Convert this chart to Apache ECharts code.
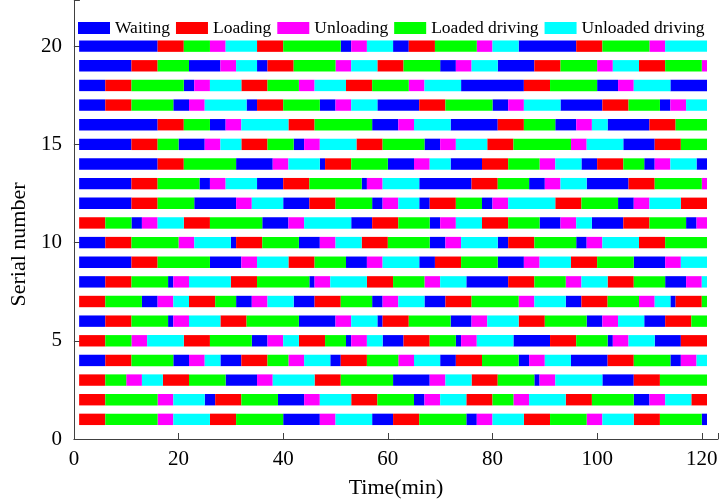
<!DOCTYPE html>
<html>
<head>
<meta charset="utf-8">
<script src="https://cdn.jsdelivr.net/npm/echarts@6/dist/echarts.min.js"></script>
<style>
  html, body { margin: 0; padding: 0; background: #fff; }
  #chart { width: 721px; height: 504px; }
</style>
</head>
<body>
<div id="chart"></div>
<script>
// state codes: W waiting, L loading, U unloading, D loaded driving, E unloaded driving
const stateNames = ["Waiting", "Loading", "Unloading", "Loaded driving", "Unloaded driving"];
const stateCodes = ["W", "L", "U", "D", "E"];
const stateColors = ["#0000ff", "#ff0000", "#ff00ff", "#00ff00", "#00ffff"];

// each row: boundary times (min) and the state of each interval between them
const times1 = [1, 6, 16, 19, 26, 31, 40, 47, 50, 57, 61, 66, 75, 77, 80, 86, 91, 98, 101, 107, 112, 120, 121];
const states1 = "LDUELDWUEWLDWUELDUELDW";
const times2 = [1, 6, 16, 19, 25, 27, 32, 39, 44, 47, 53, 58, 65, 67, 70, 75, 80, 84, 87, 94, 99, 107, 110, 113, 118, 121];
const states2 = "LDUEWLDWUELDWUELDUELDWUEL";
const times3 = [1, 6, 10, 13, 17, 22, 29, 35, 38, 46, 51, 61, 68, 71, 76, 81, 88, 89, 92, 101, 107, 112, 121];
const states3 = "LDUELDWUELDWUELDWUEWLD";
const times4 = [1, 6, 11, 19, 22, 25, 28, 32, 37, 41, 44, 49, 51, 56, 62, 65, 70, 73, 78, 85, 87, 90, 95, 102, 107, 114, 116, 119, 121];
const states4 = "WLDWUEWLDUEWLDUEWLDWUEWLDWUE";
const times5 = [1, 6, 11, 14, 21, 26, 34, 37, 40, 43, 48, 52, 53, 56, 59, 63, 68, 73, 74, 77, 84, 91, 96, 102, 103, 106, 111, 116, 121];
const states5 = "LDUELDWUELDWUEWLDWUEWLDWUEWL";
const times6 = [1, 6, 11, 18, 19, 22, 28, 33, 43, 50, 53, 58, 59, 64, 72, 76, 79, 85, 90, 98, 101, 104, 109, 113, 118, 121];
const states6 = "WLDWUELDWUEWLDWUELDWUEWLD";
const times7 = [1, 6, 13, 16, 19, 22, 27, 31, 34, 37, 42, 46, 51, 57, 59, 62, 67, 71, 76, 85, 88, 94, 97, 102, 108, 111, 114, 115, 120, 121];
const states7 = "LDWUELDWUEWLDWUEWLDUEWLDUEWLD";
const times8 = [1, 6, 11, 18, 19, 22, 30, 35, 45, 46, 49, 56, 61, 67, 70, 75, 83, 88, 94, 97, 102, 107, 113, 117, 120, 121];
const states8 = "WLDWUELDWUELDUEWLDUELDWUE";
const times9 = [1, 11, 16, 26, 32, 35, 41, 46, 52, 56, 59, 66, 69, 74, 81, 86, 89, 95, 100, 107, 113, 116, 121];
const states9 = "WLDWUELDWUEWLDWUELDWUE";
const times10 = [1, 6, 11, 20, 23, 30, 31, 36, 43, 47, 50, 55, 60, 68, 71, 74, 81, 83, 88, 96, 98, 101, 108, 113, 121];
const states10 = "WLDUEWLDWUELDWUEWLDWUELD";
const times11 = [1, 6, 11, 13, 16, 21, 26, 36, 41, 44, 53, 57, 62, 68, 70, 73, 78, 83, 89, 93, 96, 99, 105, 110, 117, 119, 121];
const states11 = "LDWUELDWUEWLDWUELDWUEWLDWU";
const times12 = [1, 11, 16, 23, 31, 34, 40, 45, 50, 57, 59, 62, 66, 68, 73, 78, 80, 83, 92, 97, 104, 107, 110, 116, 121];
const states12 = "WLDWUEWLDWUEWLDWUELDWUEL";
const times13 = [1, 11, 16, 24, 26, 29, 35, 40, 45, 55, 56, 59, 66, 76, 81, 87, 90, 93, 98, 106, 111, 120, 121];
const states13 = "WLDWUEWLDWUEWLDWUEWLDU";
const times14 = [1, 16, 21, 31, 38, 41, 47, 48, 53, 60, 65, 68, 72, 78, 83, 89, 92, 97, 100, 105, 109, 111, 114, 119, 121];
const states14 = "WLDWUEWLDWUEWLDUEWLDWUEW";
const times15 = [1, 11, 16, 20, 25, 28, 32, 37, 42, 44, 47, 54, 59, 67, 70, 73, 79, 84, 95, 98, 105, 111, 116, 121];
const states15 = "WLDWUELDWUELDWUELDUEWLD";
const times16 = [1, 16, 21, 26, 29, 32, 41, 46, 57, 62, 65, 72, 81, 86, 92, 96, 99, 102, 110, 115, 121];
const states16 = "WLDWUELDWUEWLDWUEWLD";
const times17 = [1, 6, 11, 19, 22, 25, 33, 35, 40, 47, 50, 53, 58, 66, 71, 80, 83, 86, 93, 101, 106, 112, 114, 117, 121];
const states17 = "WLDWUEWLDWUEWLDWUEWLDWUE";
const times18 = [1, 6, 11, 21, 23, 26, 32, 37, 43, 46, 52, 57, 64, 67, 74, 86, 91, 100, 104, 107, 114, 121];
const states18 = "WLDWUELDUELDUEWLDWUEW";
const times19 = [1, 11, 16, 22, 28, 31, 35, 37, 42, 50, 53, 58, 63, 70, 73, 76, 81, 88, 93, 100, 103, 108, 113, 120, 121];
const states19 = "WLDWUEWLDUELDWUEWLDUELDU";
const times20 = [1, 16, 21, 26, 29, 35, 40, 51, 53, 56, 61, 64, 69, 77, 80, 85, 96, 101, 110, 113, 121];
const states20 = "WLDUELDWUEWLDUEWLDUE";

const rowTimes = [times1, times2, times3, times4, times5, times6, times7, times8, times9, times10,
  times11, times12, times13, times14, times15, times16, times17, times18, times19, times20];
const rowStates = [states1, states2, states3, states4, states5, states6, states7, states8, states9, states10,
  states11, states12, states13, states14, states15, states16, states17, states18, states19, states20];

const xTicks = [0, 20, 40, 60, 80, 100, 120];
const yTicks = [0, 5, 10, 15, 20];

// split segments by state: [start, end, serial]
const segs = stateCodes.map(() => []);
rowTimes.forEach((t, r) => {
  const s = rowStates[r];
  for (let i = 0; i < s.length; i++) {
    segs[stateCodes.indexOf(s[i])].push([t[i], t[i + 1], r + 1]);
  }
});

const barHeight = 0.58;
function renderItem(params, api) {
  const row = api.value(2);
  const p0 = api.coord([api.value(0), row]);
  const p1 = api.coord([api.value(1), row]);
  const h = api.size([0, barHeight])[1];
  return {
    type: "rect",
    shape: { x: p0[0], y: p0[1] - h / 2, width: p1[0] - p0[0], height: h },
    style: api.style()
  };
}

const font = "Liberation Serif";
const mc = echarts.init(document.getElementById("chart"));
const option = {
  animation: false,
  backgroundColor: "#fff",
  legend: {
    left: 73,
    top: 14,
    width: 648,
    icon: "rect",
    itemWidth: 32,
    itemHeight: 12,
    itemGap: 6,
    textStyle: { fontFamily: font, fontSize: 17.5, color: "#000" },
    data: stateNames
  },
  grid: { left: 68, right: 0, top: 0, bottom: 62.5 },
  xAxis: {
    type: "value",
    min: 0,
    max: 123.1,
    interval: 20,
    name: "Time(min)",
    nameLocation: "middle",
    nameGap: 38,
    nameTextStyle: { fontFamily: font, fontSize: 22, color: "#000" },
    axisLine: { show: true, lineStyle: { color: "#404040", width: 1 } },
    axisTick: { show: true, inside: true, length: 6, lineStyle: { color: "#404040" } },
    axisLabel: {
      fontFamily: font, fontSize: 21, color: "#000", margin: 10,
      formatter: (v) => (xTicks.includes(v) ? String(v) : "")
    },
    splitLine: { show: false }
  },
  yAxis: {
    type: "value",
    min: 0,
    max: 22.35,
    interval: 5,
    name: "Serial number",
    nameLocation: "middle",
    nameGap: 29,
    nameTextStyle: { fontFamily: font, fontSize: 22, color: "#000", padding: [0, 50, 0, 0] },
    axisLine: { show: true, lineStyle: { color: "#404040", width: 1 } },
    axisTick: { show: true, inside: true, length: 6, lineStyle: { color: "#404040" } },
    axisLabel: {
      fontFamily: font, fontSize: 21, color: "#000", margin: 12,
      formatter: (v) => (yTicks.includes(v) ? String(v) : "")
    },
    splitLine: { show: false }
  },
  series: stateNames.map((name, i) => ({
    name: name,
    type: "custom",
    renderItem: renderItem,
    itemStyle: { color: stateColors[i] },
    encode: { x: [0, 1], y: 2 },
    data: segs[i]
  }))
};
mc.setOption(option);
</script>
</body>
</html>
